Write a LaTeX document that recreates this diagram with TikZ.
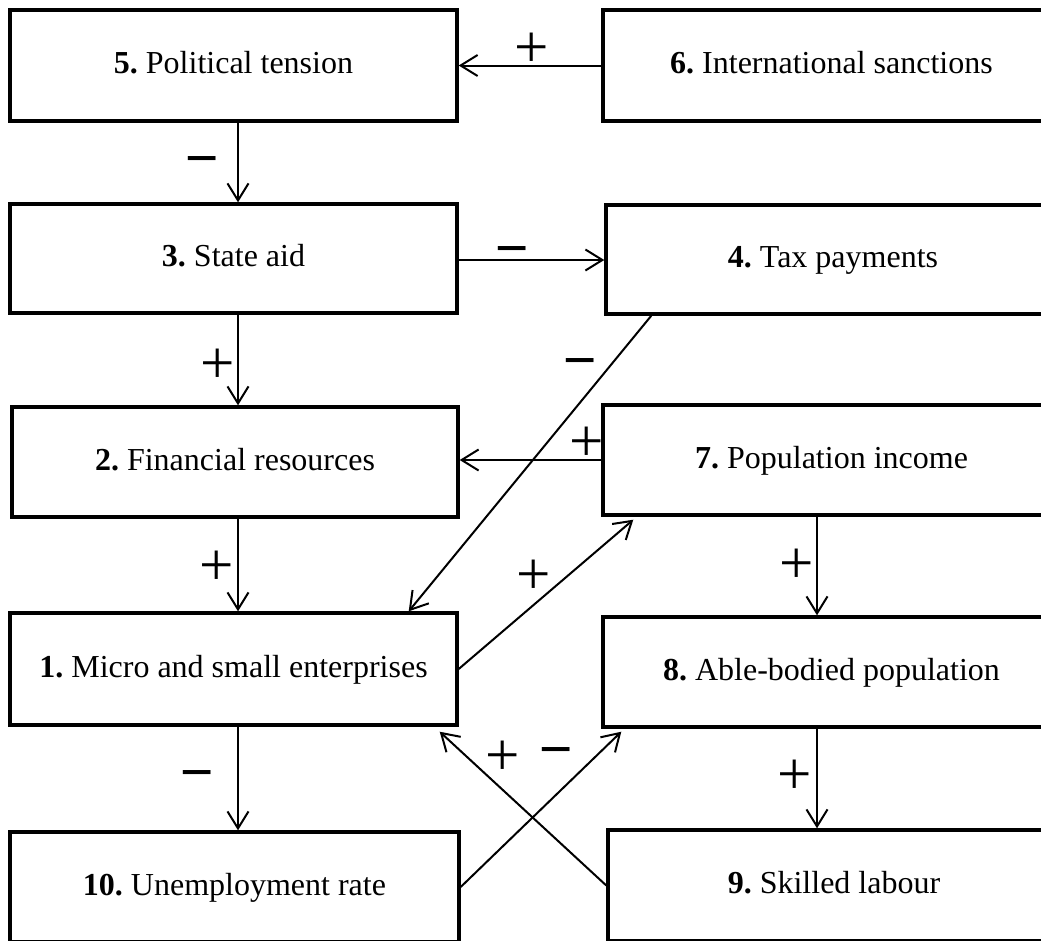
\documentclass[tikz,border=0pt]{standalone}
\usepackage{fontspec}
\setmainfont{Liberation Serif}
\newfontfamily\sgnfont{Liberation Sans}
\newfontfamily\plusfont{Liberation Serif}
\usetikzlibrary{arrows.meta}
\begin{document}
\frenchspacing
\begin{tikzpicture}[x=1pt,y=-1pt,
  box/.style={draw, line width=3.4pt, inner sep=0pt, align=center,
    font=\fontsize{32}{38}\selectfont, text height=22pt, text depth=6pt},
  arr/.style={-{Straight Barb[length=17pt,width=21pt]}, line width=2pt},
  mns/.style={inner sep=0pt, font=\sgnfont\fontsize{57}{60}\selectfont,
    text height=40pt, text depth=0pt},
  pls/.style={inner sep=0pt, yshift=-3pt, font=\plusfont\fontsize{61}{66}\selectfont}]
\useasboundingbox (0,0) rectangle (1041,940);
\clip (0,0) rectangle (1041,940);
% boxes
\node[box, minimum width=447pt, minimum height=111pt] (n5) at (233.5,65.5) {\textbf{5.} Political tension};
\node[box, minimum width=457pt, minimum height=111pt] (n6) at (831.5,65.5) {\textbf{6.} International sanctions};
\node[box, minimum width=447pt, minimum height=109pt] (n3) at (233.5,258.5) {\textbf{3.} State aid};
\node[box, minimum width=454pt, minimum height=109pt] (n4) at (833,259.5) {\textbf{4.} Tax payments};
\node[box, minimum width=446pt, minimum height=110pt] (n2) at (235,462) {\textbf{2.} Financial resources};
\node[box, minimum width=457pt, minimum height=110pt] (n7) at (831.5,460) {\textbf{7.} Population income};
\node[box, minimum width=447pt, minimum height=112pt] (n1) at (233.5,669) {\textbf{1.} Micro and small enterprises};
\node[box, minimum width=457pt, minimum height=110pt] (n8) at (831.5,672) {\textbf{8.} Able-bodied population};
\node[box, minimum width=449pt, minimum height=110pt] (n10) at (234.5,887) {\textbf{10.} Unemployment rate};
\node[box, minimum width=452pt, minimum height=111pt] (n9) at (834,885.5) {\textbf{9.} Skilled labour};
% connectors
\draw[arr] (n6.west) -- (n5.east);
\draw[arr] ([xshift=4.5pt]n5.south) -- ([xshift=4.5pt]n5.south |- n3.north);
\draw[arr] ([yshift=-1.5pt]n3.east) -- ([yshift=-1.5pt]n3.east -| n4.west);
\draw[arr] ([xshift=4.5pt]n3.south) -- ([xshift=4.5pt]n3.south |- n2.north);
\draw[arr] ([xshift=3pt]n2.south) -- ([xshift=3pt]n2.south |- n1.north);
\draw[arr] ([xshift=4.5pt]n1.south) -- ([xshift=4.5pt]n1.south |- n10.north);
\draw[arr] (n7.west) -- (n7.west -| n2.east);
\draw[arr] ([xshift=-14.5pt]n7.south) -- ([xshift=-14.5pt]n7.south |- n8.north);
\draw[arr] ([xshift=-14.5pt]n8.south) -- ([xshift=-14.5pt]n8.south |- n9.north);
\draw[arr] ([xshift=47pt]n4.south west) -- ([xshift=-50pt]n1.north east);
\draw[arr] (n1.east) -- ([xshift=32pt,yshift=-3pt]n7.south west);
\draw[arr] (n10.east) -- ([xshift=20pt,yshift=-3pt]n8.south west);
\draw[arr] (n9.west) -- ([xshift=-19pt,yshift=-5pt]n1.south east);
% signs
\node[pls] (s65) at (532,47) {+};
\node[mns] (s53) at (202,157) {−};
\node[mns] (s34) at (512,247) {−};
\node[pls] (s32) at (218,363) {+};
\node[mns] (s41) at (580,359) {−};
\node[pls] (s72) at (587,441) {+};
\node[pls] (s21) at (217,565) {+};
\node[pls] (s17) at (534,574) {+};
\node[pls] (s78) at (797,563) {+};
\node[mns] (s110) at (197,771) {−};
\node[mns] (s108) at (556,748) {−};
\node[pls] (s91) at (503,755) {+};
\node[pls] (s89) at (795,774) {+};
\end{tikzpicture}
\end{document}
